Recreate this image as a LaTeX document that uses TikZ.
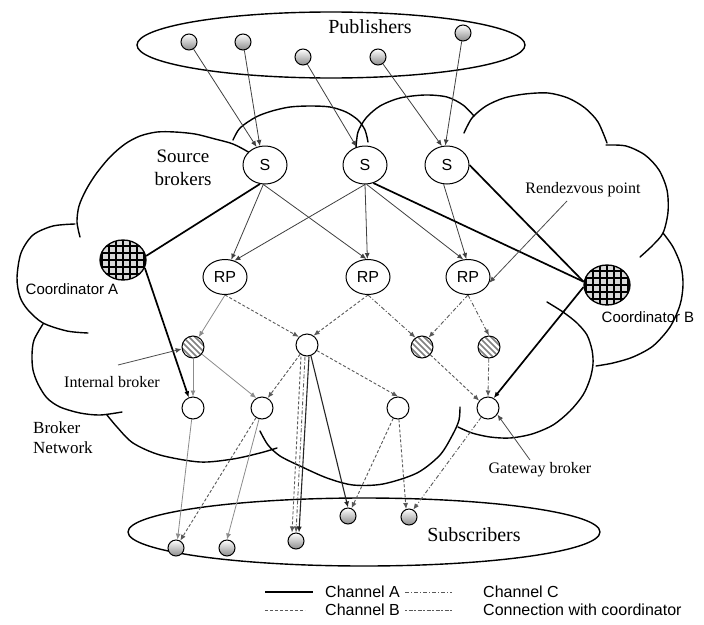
\documentclass[tikz,border=0pt]{standalone}
\usepackage{fontspec}
\setmainfont{Liberation Serif}
\newfontfamily\sansfam{Liberation Sans}
\usetikzlibrary{arrows.meta,shapes.geometric}

\pgfdeclarelayer{back}
\pgfdeclarelayer{mid}
\pgfsetlayers{back,mid,main}

\begin{document}
\begin{tikzpicture}[x=1pt,y=-1pt,
  cloudline/.style={line width=1.4pt, line join=round, line cap=round},
  tip/.style={-{Latex[length=6pt,width=5pt]}},
  pubnode/.style={circle, draw, line width=1pt, minimum size=16pt, inner sep=0pt,
    top color=white, bottom color=black!45},
  brk/.style={circle, draw, line width=1pt, fill=white, minimum size=22pt, inner sep=0pt},
  ibrk/.style={brk, path picture={
      \foreach \k in {-18,-12,...,18}{
        \draw[black!50, line width=1.6pt, shift={(path picture bounding box.center)}]
          (\k-14,-14) -- ++(28,28);}}},
  coord/.style={ellipse, draw, line width=1.3pt, fill=black!15, minimum width=46pt,
    minimum height=40pt, inner sep=0pt, path picture={
      \foreach \k in {-21,-14,...,21}{
        \draw[line width=1.4pt, shift={(path picture bounding box.center)}]
          (\k,-25) -- (\k,25) (-25,\k) -- (25,\k);}}},
  snode/.style={ellipse, draw, line width=1pt, fill=white, minimum width=44pt,
    minimum height=38pt, inner sep=0pt, font=\sansfam\fontsize{16}{16}\selectfont},
  rpnode/.style={snode, minimum height=35pt},
  serifsmall/.style={font=\fontsize{16}{18}\selectfont, inner sep=0pt},
  seriflarge/.style={font=\fontsize{20}{23}\selectfont, inner sep=0pt},
  sanslabel/.style={font=\sansfam\fontsize{15}{17}\selectfont, inner sep=0pt},
  legtext/.style={font=\sansfam\fontsize{16}{18}\selectfont, inner sep=0pt, anchor=west},
  pa/.style={draw=black!75, line width=0.8pt, tip},
  thk/.style={draw=black, line width=1.7pt},
  faint/.style={draw=black!45, line width=0.8pt, tip},
  chB/.style={draw=black!65, line width=0.9pt, dash pattern=on 3pt off 2pt},
  chC/.style={draw=black!65, line width=0.9pt, dash pattern=on 4pt off 2pt on 1pt off 2pt},
  conn/.style={draw=black!65, line width=0.9pt, dash pattern=on 2pt off 1.5pt on 4pt off 1.5pt},
  solidB/.style={draw=black!85, line width=1.1pt}
]
\useasboundingbox (0,0) rectangle (704,624);

% ---------- nodes ----------
% publishers
\node[pubnode] (p1) at (189,42) {};
\node[pubnode] (p2) at (243,42) {};
\node[pubnode] (p3) at (303,57) {};
\node[pubnode] (p4) at (378,57) {};
\node[pubnode] (p5) at (463,33) {};
% source brokers
\node[snode] (S1) at (265,165) {S};
\node[snode] (S2) at (365,165) {S};
\node[snode] (S3) at (447,165) {S};
% rendezvous points
\node[rpnode] (RP1) at (225,277) {RP};
\node[rpnode] (RP2) at (368,277) {RP};
\node[rpnode] (RP3) at (468,277) {RP};
% coordinators
\node[coord] (CA) at (123,260) {};
\node[coord] (CB) at (607,285) {};
% internal brokers
\node[ibrk] (IB1) at (193,347) {};
\node[ibrk] (IB2) at (422,347) {};
\node[ibrk] (IB3) at (489,347) {};
% plain brokers
\node[brk] (BM) at (307,345) {};
\node[brk] (BL1) at (193,408) {};
\node[brk] (BL2) at (262,408) {};
\node[brk] (BR1) at (398,408) {};
\node[brk] (GW) at (488,408) {};
% subscribers
\node[pubnode] (s1) at (176,548) {};
\node[pubnode] (s2) at (227,548) {};
\node[pubnode] (s3) at (296,541) {};
\node[pubnode] (s4) at (348,516) {};
\node[pubnode] (s5) at (409,517) {};

% ---------- labels ----------
\node[seriflarge] (tpub) at (370,27) {Publishers};
\node[seriflarge] (tsub) at (474,535) {Subscribers};
\node[font=\fontsize{19}{23}\selectfont, align=center, inner sep=0pt] (tsrc) at (183,168) {Source\\brokers};
\node[font=\fontsize{17}{20}\selectfont, align=left, anchor=west, inner sep=0pt] (tnet) at (33,438) {Broker\\Network};
\node[serifsmall] (trv) at (583,190) {Rendezvous point};
\node[serifsmall] (tib) at (112,382) {Internal broker};
\node[serifsmall] (tgw) at (540,470) {Gateway broker};
\node[sanslabel] (tca) at (72,289) {Coordinator A};
\node[sanslabel] (tcb) at (648,317) {Coordinator B};

\coordinate (rvfrom) at (567,201);
\coordinate (ibfrom) at (118,365);
\coordinate (gwfrom) at (530,460);

% ---------- cloud and ellipses ----------
\begin{pgfonlayer}{back}
\fill[white] (0,0) rectangle (704,624);
\draw[line width=1.4pt] (331,45) ellipse [x radius=194, y radius=33];
\draw[line width=1.4pt] (364,532) ellipse [x radius=236, y radius=34];
% cloud lobes
\draw[cloudline] plot[smooth] coordinates {(75,224) (53,226) (33,235) (21,253) (17,278) (20,297) (28,310) (43,323) (67,331) (88,333)};
\draw[cloudline] plot[smooth] coordinates {(80,237) (77,222) (79,206) (86,190) (96,174) (110,157) (125,144) (140,136) (157,132) (175,132) (195,134) (215,139) (233,144) (250,153) (262,162)};
\draw[cloudline] plot[smooth] coordinates {(233,140) (240,128) (256,117) (272,111) (290,107) (310,106) (330,107) (346,112) (358,120) (365,130) (368,142)};
\draw[cloudline] plot[smooth] coordinates {(356,148) (358,132) (366,118) (380,106) (400,98) (425,95) (447,97) (463,105) (474,116)};
\draw[cloudline] plot[smooth] coordinates {(464,133) (472,118) (486,106) (504,98) (525,94) (548,93) (568,98) (585,108) (598,122) (607,143)};
\draw[cloudline] plot[smooth] coordinates {(606,145) (626,146) (645,155) (659,170) (667,190) (668,212) (663,233) (652,246) (640,257)};
\draw[cloudline] plot[smooth] coordinates {(663,233) (673,247) (681,266) (683,285) (680,305) (670,327) (653,346) (633,357) (613,363) (596,366)};
\draw[cloudline] plot[smooth] coordinates {(547,302) (563,312) (577,323) (587,335) (592,350) (593,364) (590,379) (583,395) (570,411) (553,425) (532,434) (510,438) (490,437) (472,433) (458,427)};
\draw[cloudline] plot[smooth] coordinates {(260,431) (268,445) (280,456) (300,466) (327,478) (353,485) (383,484) (417,473) (440,455) (453,434) (459,420) (460,407)};
\draw[cloudline] plot[smooth] coordinates {(107,415) (117,427) (133,443) (160,455) (200,462) (233,459) (260,453) (277,448)};
\draw[cloudline] plot[smooth] coordinates {(43,324) (34,340) (32,355) (33,370) (38,384) (47,398) (60,407) (80,413) (100,415) (122,412)};
\end{pgfonlayer}

% ---------- connectors ----------
\begin{pgfonlayer}{mid}
% publishers to source brokers
\draw[pa] (p1) -- (S1.115);
\draw[pa] (p2) -- (S1.105);
\draw[pa] (p3) -- (S2.115);
\draw[pa] (p4) -- (S3.105);
\draw[pa] (p5) -- (S3.95);
% source brokers to rendezvous points
\draw[pa] (S1.265) -- (RP1.70);
\draw[pa] (S1.265) -- (RP2.95);
\draw[pa] (S2.270) -- (RP1.60);
\draw[pa] (S2.270) -- (RP2.92);
\draw[pa] (S2.275) -- (RP3.105);
\draw[pa] (S3.260) -- (RP3.95);
% links to the coordinators
\draw[thk] (S1.255) -- (CA.10);
\draw[thk] (S2.295) -- (CB.172);
\draw[thk] (S3.east) -- (CB.172);
\draw[thk, tip] (CA.-20) -- (BL1.112);
\draw[thk, tip] (CB.185) -- (GW.60);
% rendezvous points to the broker tree
\draw[faint] (RP1.south) -- (IB1.60);
\draw[chB, tip] (RP1.south) -- (BM.135);
\draw[chB, tip] (RP2.south) -- (BM.55);
\draw[chC, tip] (RP2.south) -- (IB2.125);
\draw[chC, tip] (RP3.south) -- (IB2.55);
\draw[chC, tip] (RP3.south) -- (IB3.north);
\draw[faint] (IB1) -- (BL1);
\draw[faint] (IB1) -- (BL2.120);
\draw[chB, tip] (BM) -- (BL2.60);
\draw[chB, tip] (BM) -- (BR1.north);
\draw[chB, tip] (IB2) -- (GW.140);
\draw[chC, tip] (IB3) -- (GW.north);
% brokers to subscribers
\draw[faint] (BL1) -- (s1.80);
\draw[chB, tip] (BL2) -- (s1.60);
\draw[faint] (BL2) -- (s2.north);
\draw[chB, tip] ([xshift=-6pt]BM.south) -- ([xshift=-4pt]s3.north);
\draw[chC, tip] ([xshift=-2pt]BM.south) -- ([xshift=0pt]s3.north);
\draw[solidB, tip] ([xshift=2pt]BM.south) -- ([xshift=3pt]s3.north);
\draw[solidB, tip] (BM.-70) -- (s4.north);
\draw[chB, tip] (BR1) -- (s4.65);
\draw[chB, tip] (BR1) -- (s5.110);
\draw[chC, tip] (GW) -- (s5.60);
% label pointers
\draw[faint, draw=black!70] (rvfrom) -- (RP3.-15);
\draw[faint, draw=black!70] (ibfrom) -- (IB1.190);
\draw[faint, draw=black!70] (gwfrom) -- (GW.-35);
\end{pgfonlayer}

% ---------- legend ----------
\coordinate (la1) at (265,592); \coordinate (la2) at (313,592);
\coordinate (lc1) at (405,592); \coordinate (lc2) at (452,592);
\coordinate (lb1) at (265,610); \coordinate (lb2) at (305,610);
\coordinate (ld1) at (405,610); \coordinate (ld2) at (452,610);
\draw[draw=black, line width=1.2pt] (la1) -- (la2);
\draw[chC] (lc1) -- (lc2);
\draw[chB] (lb1) -- (lb2);
\draw[conn] (ld1) -- (ld2);
\node[legtext] (lta) at (325,592) {Channel A};
\node[legtext] (ltc) at (483,592) {Channel C};
\node[legtext] (ltb) at (325,610) {Channel B};
\node[legtext] (ltd) at (483,610) {Connection with coordinator};
\end{tikzpicture}
\end{document}
